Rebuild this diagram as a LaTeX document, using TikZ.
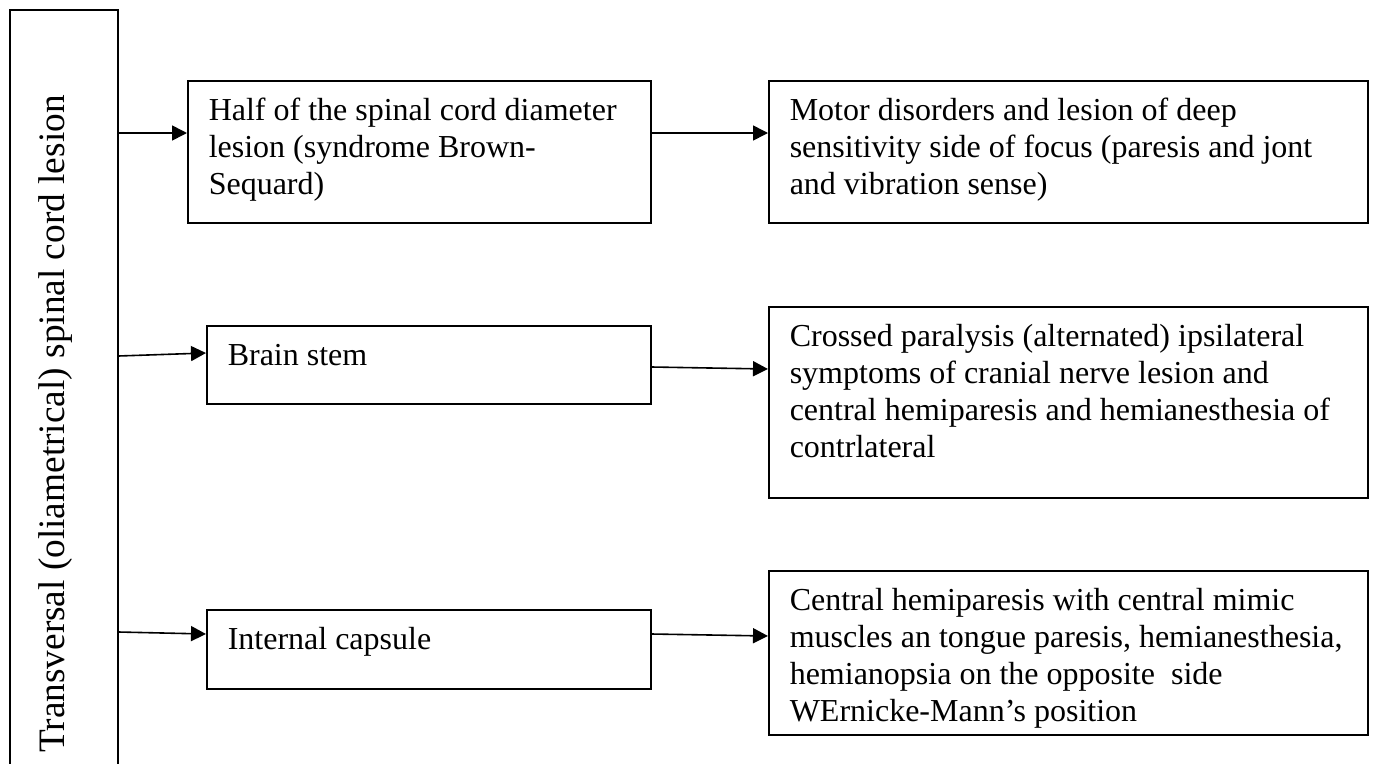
\documentclass[tikz,border=0pt]{standalone}
\usepackage{fontspec}
\setmainfont{Liberation Serif}
\usetikzlibrary{arrows.meta}

% text block: total height, text width, lines (first baseline 40pt below the top edge)
\newcommand\celltext[3]{\parbox[t][#1][t]{#2}{\raggedright\rule{0pt}{40pt}#3}}

\tikzset{
  cell/.style={draw, line width=1.5pt, anchor=north west, inner xsep=21pt, inner ysep=0pt,
    font=\fontsize{32}{36.8}\selectfont},
  link/.style={line width=1.6pt, -{Triangle[length=15pt,width=15pt]}},
}

\begin{document}
\begin{tikzpicture}[x=1pt,y=-1pt]
\useasboundingbox (0,0) rectangle (1373,763);

% tall box on the left, running off the bottom of the page
\node[draw, line width=1.5pt, anchor=north west, inner sep=0pt,
      minimum width=108pt, minimum height=830pt] (spine) at (9,9) {};
\node[rotate=90, anchor=base west, inner sep=0pt, font=\fontsize{37.3}{40}\selectfont]
  (title) at (64,753) {Transversal (oliametrical) spinal cord lesion};

% middle column
\node[cell] (half) at (187,80) {\celltext{142pt}{421pt}{Half of the spinal cord diameter\\lesion (syndrome Brown-\\Sequard)}};
\node[cell] (brain) at (206,325) {\celltext{78pt}{402pt}{Brain stem}};
\node[cell] (capsule) at (206,609) {\celltext{79pt}{402pt}{Internal capsule}};

% right column
\node[cell] (motor) at (768,80) {\celltext{142pt}{557pt}{Motor disorders and lesion of deep\\sensitivity side of focus (paresis and jont\\and vibration sense)}};
\node[cell] (crossed) at (768,306) {\celltext{191pt}{557pt}{Crossed paralysis (alternated) ipsilateral\\symptoms of cranial nerve lesion and\\central hemiparesis and hemianesthesia of\\contrlateral}};
\node[cell] (central) at (768,570) {\celltext{164pt}{557pt}{Central hemiparesis with central mimic\\muscles an tongue paresis, hemianesthesia,\\hemianopsia on the opposite\ \ side\\WErnicke-Mann’s position}};

% connectors
\draw[link] (spine.east |- 0,133) -- (half.west |- 0,133);
\draw[link] (half.east |- 0,133) -- (motor.west |- 0,133);
\draw[link] (spine.east |- 0,356) -- (brain.west |- 0,353);
\draw[link] (brain.east |- 0,367) -- (crossed.west |- 0,369);
\draw[link] (spine.east |- 0,632) -- (capsule.west |- 0,634);
\draw[link] (capsule.east |- 0,634) -- (central.west |- 0,636);
\end{tikzpicture}
\end{document}
